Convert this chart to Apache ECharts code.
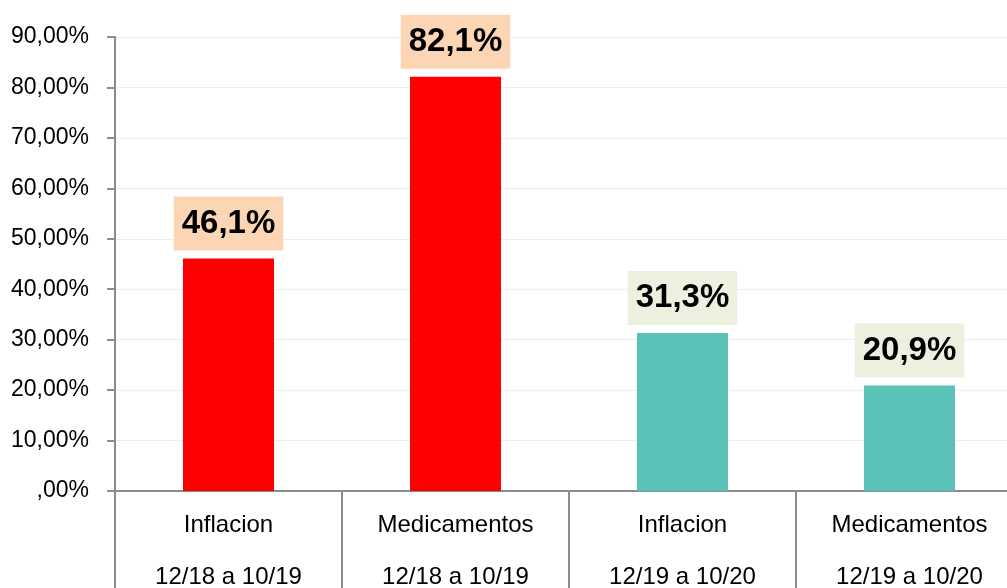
<!DOCTYPE html>
<html>
<head>
<meta charset="utf-8">
<script src="https://cdn.jsdelivr.net/npm/echarts@6/dist/echarts.min.js"></script>
<style>
  html, body { margin: 0; padding: 0; background: #fff; }
  #chart { width: 1007px; height: 588px; }
</style>
</head>
<body>
<div id="chart"></div>
<script>
// categorias (dos lineas: nombre y periodo)
const categories = ['Inflacion', 'Medicamentos', 'Inflacion', 'Medicamentos'];
const periods = ['12/18 a 10/19', '12/18 a 10/19', '12/19 a 10/20', '12/19 a 10/20'];
// variacion en %
const values = [46.1, 82.1, 31.3, 20.9];
const yTicks = [0, 10, 20, 30, 40, 50, 60, 70, 80, 90];

const barColors = ['#ff0000', '#ff0000', '#5bc2b8', '#5bc2b8'];
const boxColors = ['#fcd5b5', '#fcd5b5', '#ebf1de', '#ebf1de'];

const chartDom = document.getElementById('chart');
const chart = echarts.init(chartDom);

const fmtAxis = v => (v === 0 ? ',00%' : v.toFixed(2).replace('.', ',') + '%');
const fmtLabel = v => v.toFixed(1).replace('.', ',') + '%';

const option = {
    animation: false,
    backgroundColor: '#fff',
    textStyle: { fontFamily: 'Liberation Sans' },
    // el area del grafico sigue mas alla del borde derecho (recortada)
    grid: { left: 115, right: -16, top: 37, bottom: 97, containLabel: false, outerBoundsMode: 'none' },
    xAxis: {
        type: 'category',
        data: categories.map((c, i) => c + '\n' + periods[i]),
        axisLine: { lineStyle: { color: '#8c8c8c', width: 2 } },
        axisTick: { show: true, length: 110, lineStyle: { color: '#8c8c8c', width: 2 } },
        axisLabel: {
            margin: 8,
            fontSize: 24,
            lineHeight: 52,
            color: '#000'
        }
    },
    yAxis: {
        type: 'value',
        min: yTicks[0],
        max: yTicks[yTicks.length - 1],
        interval: 10,
        axisLine: { show: true, lineStyle: { color: '#8c8c8c', width: 2 } },
        axisTick: { show: true, length: 8, lineStyle: { color: '#8c8c8c', width: 2 } },
        splitLine: { lineStyle: { color: '#eeeeee', width: 1 } },
        axisLabel: {
            margin: 26,
            fontSize: 23,
            color: '#000',
            formatter: fmtAxis
        }
    },
    series: [{
        type: 'bar',
        barWidth: 91,
        data: values.map((v, i) => ({
            value: v,
            itemStyle: { color: barColors[i] },
            label: { backgroundColor: boxColors[i] }
        })),
        label: {
            show: true,
            position: 'top',
            distance: 8,
            fontSize: 33,
            fontWeight: 'bold',
            color: '#000',
            lineHeight: 34,
            padding: [10, 8],
            formatter: p => fmtLabel(p.value)
        }
    }]
};

chart.setOption(option);
</script>
</body>
</html>
